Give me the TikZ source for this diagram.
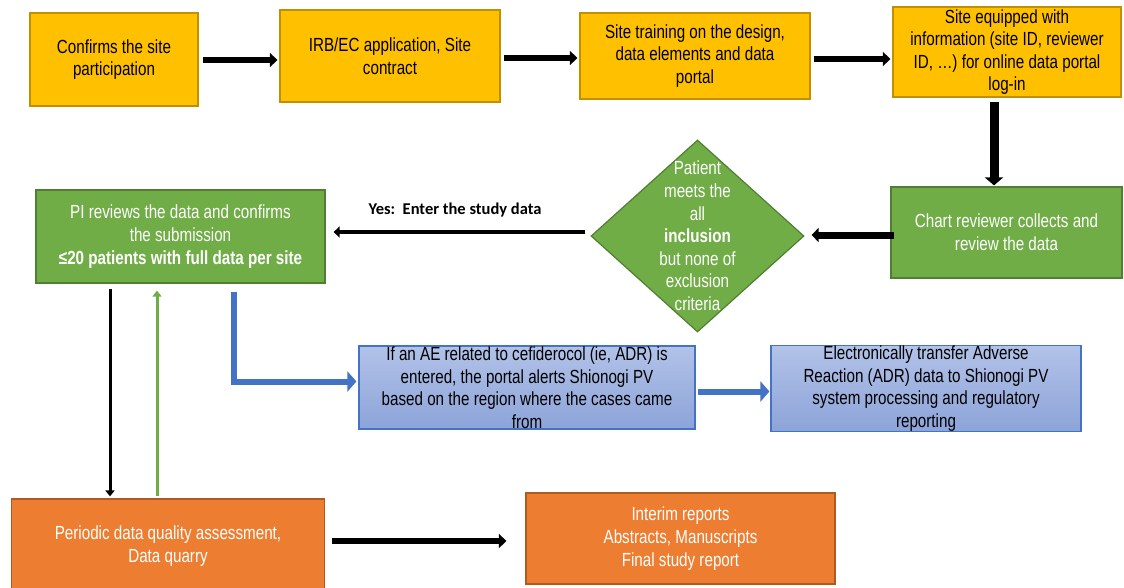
\documentclass[tikz,border=0pt]{standalone}
\usepackage{fontspec}
\setmainfont[FakeStretch=0.8]{Liberation Sans}
\newfontfamily\calib{Carlito}
\usetikzlibrary{arrows.meta,shapes.geometric,calc}
\definecolor{yel}{HTML}{FFC000}
\definecolor{yelD}{HTML}{BF9000}
\definecolor{grn}{HTML}{70AD47}
\definecolor{grnD}{HTML}{507E32}
\definecolor{org}{HTML}{ED7D31}
\definecolor{orgD}{HTML}{AE5A21}
\definecolor{blT}{HTML}{B2C2E8}
\definecolor{blB}{HTML}{8DA4D9}
\definecolor{blD}{HTML}{4472C4}
\tikzset{
  box/.style={draw, line width=1.2pt, align=center, inner sep=0pt},
  ybox/.style={box, fill=yel, draw=yelD},
  gbox/.style={box, fill=grn, draw=grnD, text=white},
  obox/.style={box, fill=org, draw=orgD, text=white},
  bbox/.style={box, top color=blT, bottom color=blB, draw=blD},
  sz/.style 2 args={minimum width=#1, minimum height=#2},
  blk/.style={line width=6.5pt, -{Triangle[length=7.5pt,width=14pt]}},
  blkthin/.style={line width=3pt, -{Triangle[length=6pt,width=9pt]}},
  grnarr/.style={line width=3pt, draw=grn, -{Triangle[length=6pt,width=9pt]}},
  bluarr/.style={line width=6pt, draw=blD, -{Triangle[length=9pt,width=20pt]}},
}
\begin{document}
\begin{tikzpicture}[x=1pt,y=-1pt, font=\fontsize{19}{22.6}\selectfont]
\useasboundingbox (0,0) rectangle (1124,587);
% top row
\node[ybox, sz={168pt}{93pt}] (A) at (114,59.5) {Confirms the site\\participation};
\node[ybox, sz={220pt}{92pt}] (B) at (390,56) {IRB/EC application, Site\\contract};
\node[ybox, sz={230pt}{86pt}] (C) at (695,56) {Site training on the design,\\data elements and data\\portal};
\node[ybox, sz={228pt}{90pt}] (D) at (1007,52) {Site equipped with\\information (site ID, reviewer\\ID, \dots) for online data portal\\log-in};
% second row
\node[gbox, sz={231pt}{91pt}] (E) at (1006.5,232.5) {Chart reviewer collects and\\review the data};
\node[diamond, fill=grn, draw=grnD, line width=1.2pt, minimum width=213pt, minimum height=192pt, inner sep=0pt] (Q) at (697.5,236) {};
\node[text=white, align=center, inner sep=0pt] (Qt) at (Q.center) {Patient\\meets the\\all\\\textbf{inclusion}\\but none of\\exclusion\\criteria};
\node[gbox, sz={289pt}{93pt}] (F) at (180.5,236.5) {PI reviews the data and confirms\\the submission\\\textbf{≤20 patients with full data per site}};
\node[font=\calib\bfseries\fontsize{16.5}{18}\selectfont, inner sep=0pt] (yes) at (455,210) {Yes:\ \ Enter the study data};
% third row
\node[bbox, sz={336pt}{83pt}] (G) at (527,387.5) {If an AE related to cefiderocol (ie, ADR) is\\entered, the portal alerts Shionogi PV\\based on the region where the cases came\\from};
\node[bbox, sz={310pt}{85pt}] (H) at (926,388.5) {Electronically transfer Adverse\\Reaction (ADR) data to Shionogi PV\\system processing and regulatory\\reporting};
% bottom row
\node[obox, sz={313pt}{94pt}] (I) at (168,546) {Periodic data quality assessment,\\Data quarry};
\node[obox, sz={309pt}{91pt}] (J) at (680.5,538.5) {Interim reports\\Abstracts, Manuscripts\\Final study report};
% connectors
\coordinate (xa) at (994,0);
\coordinate (xb) at (110,0);
\coordinate (xc) at (157,0);
\coordinate (xd) at (234,0);
\draw[blk, shorten <=4pt, shorten >=2pt] (A.east |- 0,60) -- (B.west |- 0,60);
\draw[blk, shorten <=3pt, shorten >=2pt] (B.east |- 0,58) -- (C.west |- 0,58);
\draw[blk, shorten <=3pt, shorten >=2pt] (C.east |- 0,59) -- (D.west |- 0,59);
\draw[line width=9pt, -{Triangle[length=8pt,width=18pt]}, shorten <=4pt, shorten >=1pt] (D.south -| xa) -- (E.north -| xa);
\draw[line width=7pt, -{Triangle[length=7pt,width=14pt]}, shorten <=-4pt, shorten >=7pt] (E.west |- 0,235) -- (Q.east |- 0,235);
\draw[line width=4.5pt, -{Triangle[length=6pt,width=11pt]}, shorten <=5pt, shorten >=8pt] (Q.west |- 0,232) -- (F.east |- 0,232);
\draw[blkthin, shorten <=5pt, shorten >=2pt] (F.south -| xb) -- (I.north -| xb);
\draw[grnarr, shorten <=2pt, shorten >=7pt] (I.north -| xc) -- (F.south -| xc);
\draw[bluarr, shorten >=2pt] ([yshift=-8pt]F.south -| xd) |- ([yshift=6pt]G.west);
\draw[bluarr, shorten <=2pt, shorten >=1pt] ([yshift=-4pt]G.east) -- ([yshift=-4pt]H.west |- G.east);
\draw[blk, shorten <=7pt, shorten >=19pt] (I.east |- 0,541) -- (J.west |- 0,541);
\end{tikzpicture}
\end{document}
